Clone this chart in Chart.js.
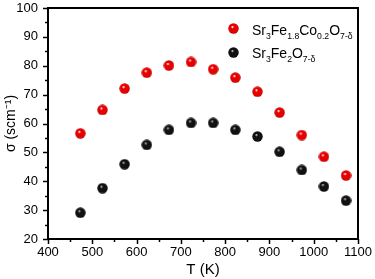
<!DOCTYPE html>
<html>
<head>
<meta charset="utf-8">
<script src="https://cdn.jsdelivr.net/npm/chart.js@4/dist/chart.umd.min.js"></script>
<style>
  html, body { margin: 0; padding: 0; background: #fff; }
  #wrap { width: 375px; height: 279px; }
</style>
</head>
<body>
<div id="wrap"><canvas id="grafico" width="375" height="279"></canvas></div>
<script>
// temperatura (K)
var temps = [473, 523, 573, 623, 673, 723, 773, 823, 873, 923, 973, 1023, 1073];
// condutividade (S/cm)
var sigmaCo = [56.6, 64.7, 72.1, 77.6, 80.1, 81.3, 78.8, 75.9, 71.0, 63.8, 56.0, 48.5, 42.0];
var sigmaFe = [29.1, 37.6, 45.9, 52.6, 57.8, 60.2, 60.2, 57.8, 55.5, 50.2, 43.9, 38.2, 33.3];
var xTicks = [400, 500, 600, 700, 800, 900, 1000, 1100];
var yTicks = [20, 30, 40, 50, 60, 70, 80, 90, 100];

var fonte = "'Liberation Sans', Arial, sans-serif";

// esfera com brilho, usada como pointStyle
function esfera(cor, escuro, brilho) {
    var c = document.createElement('canvas');
    c.width = 11; c.height = 11;
    var g = c.getContext('2d');
    var grad = g.createRadialGradient(4.3, 3.8, 0.3, 5.5, 5.5, 5.5);
    grad.addColorStop(0, brilho);
    grad.addColorStop(0.25, cor);
    grad.addColorStop(0.8, cor);
    grad.addColorStop(1, escuro);
    g.fillStyle = grad;
    g.beginPath();
    g.arc(5.5, 5.5, 5.2, 0, Math.PI * 2);
    g.fill();
    return c;
}
var bolaVermelha = esfera('#e80000', '#a00000', '#ffffff');
var bolaPreta = esfera('#111111', '#000000', '#bbbbbb');

function pontos(vals) {
    return temps.map(function (t, i) { return { x: t, y: vals[i] }; });
}

// texto com subscritos: partes [texto, sub?]
function textoRico(ctx, partes, x, y, tam) {
    var cx = x;
    partes.forEach(function (p) {
        if (p[1]) {
            ctx.font = (tam * 0.62) + 'px ' + fonte;
            ctx.fillText(p[0], cx, y + 4);
        } else {
            ctx.font = tam + 'px ' + fonte;
            ctx.fillText(p[0], cx, y);
        }
        cx += ctx.measureText(p[0]).width;
    });
}

var moldura = {
    id: 'moldura',
    afterDraw: function (chart) {
        var ctx = chart.ctx;
        var a = chart.chartArea;
        var sx = chart.scales.x, sy = chart.scales.y;
        ctx.save();
        ctx.strokeStyle = '#000';
        ctx.lineWidth = 1.5;
        // ticks eixo y
        for (var v = 20; v <= 100; v += 5) {
            var py = Math.round(sy.getPixelForValue(v)) + 0.5;
            var len = (v % 10 === 0) ? 5 : 3;
            ctx.beginPath();
            ctx.moveTo(a.left - len, py);
            ctx.lineTo(a.left, py);
            ctx.stroke();
        }
        // ticks eixo x
        for (var t = 400; t <= 1100; t += 50) {
            var px = Math.round(sx.getPixelForValue(t)) + 0.5;
            var l2 = (t % 100 === 0) ? 5 : 3;
            ctx.beginPath();
            ctx.moveTo(px, a.bottom);
            ctx.lineTo(px, a.bottom + l2);
            ctx.stroke();
        }
        ctx.lineWidth = 2;
        ctx.strokeRect(a.left, a.top, a.right - a.left, a.bottom - a.top);

        // titulos
        ctx.fillStyle = '#000';
        ctx.font = '15px ' + fonte;
        ctx.textAlign = 'center';
        ctx.textBaseline = 'middle';
        ctx.fillText('T (K)', (a.left + a.right) / 2, 270);
        ctx.save();
        ctx.translate(11, (a.top + a.bottom) / 2);
        ctx.rotate(-Math.PI / 2);
        ctx.font = '14px ' + fonte;
        ctx.fillText('\u03c3 (scm\u207b\u00b9)', 0, 0);
        ctx.restore();

        // legenda
        ctx.textAlign = 'left';
        ctx.textBaseline = 'alphabetic';
        ctx.drawImage(bolaVermelha, 228, 23);
        textoRico(ctx, [['Sr'], ['3', 1], ['Fe'], ['1.8', 1], ['Co'], ['0.2', 1], ['O'], ['7-\u03b4', 1]], 252, 35, 14);
        ctx.drawImage(bolaPreta, 228, 47);
        textoRico(ctx, [['Sr'], ['3', 1], ['Fe'], ['2', 1], ['O'], ['7-\u03b4', 1]], 252, 58, 14);
        ctx.restore();
    }
};

var ctx = document.getElementById('grafico').getContext('2d');
window.meuGrafico = new Chart(ctx, {
    type: 'scatter',
    data: {
        datasets: [{
            label: 'Sr3Fe1.8Co0.2O7-d',
            data: pontos(sigmaCo),
            pointStyle: bolaVermelha,
            pointRadius: 5.5
        }, {
            label: 'Sr3Fe2O7-d',
            data: pontos(sigmaFe),
            pointStyle: bolaPreta,
            pointRadius: 5.5
        }]
    },
    options: {
        responsive: false,
        animation: false,
        layout: { padding: { top: 8, right: 17, left: 0, bottom: 0 } },
        plugins: {
            legend: { display: false },
            tooltip: { enabled: false }
        },
        scales: {
            x: {
                type: 'linear',
                min: 400, max: 1100,
                afterBuildTicks: function (s) { s.ticks = xTicks.map(function (v) { return { value: v }; }); },
                afterFit: function (s) {
                    s.height = 40;
                    s.paddingLeft = 0; s.paddingRight = 0;
                },
                grid: { display: false, drawTicks: false },
                border: { display: false },
                ticks: {
                    color: '#000', font: { family: fonte, size: 13 }, padding: 6, maxRotation: 0,
                    callback: function (v) { return String(v); }
                }
            },
            y: {
                type: 'linear',
                min: 20, max: 100,
                afterBuildTicks: function (s) { s.ticks = yTicks.map(function (v) { return { value: v }; }); },
                afterFit: function (s) {
                    s.width = 48;
                    s.paddingTop = 0; s.paddingBottom = 0;
                },
                grid: { display: false, drawTicks: false },
                border: { display: false },
                ticks: {
                    color: '#000', font: { family: fonte, size: 13 }, padding: 10,
                    callback: function (v) { return String(v); }
                }
            }
        }
    },
    plugins: [moldura]
});
</script>
</body>
</html>
